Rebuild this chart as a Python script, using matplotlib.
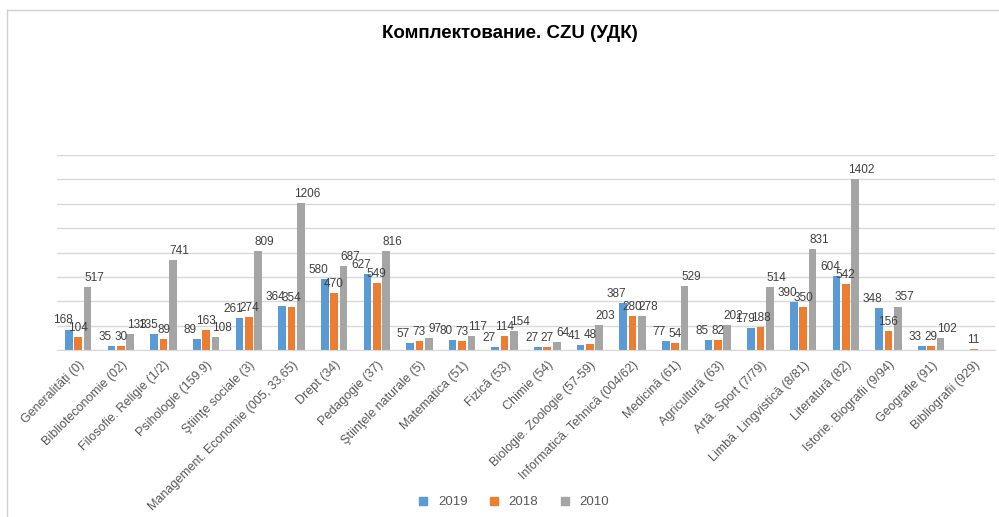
import numpy as np
import matplotlib.pyplot as plt
from matplotlib.lines import Line2D

plt.rcParams['font.family'] = ['Liberation Sans', 'DejaVu Sans']

categories = ['Generalități (0)', 'Biblioteconomie (02)', 'Filosofie. Religie (1/2)',
              'Psihologie (159.9)', 'Ştiinţe sociale (3)', 'Management. Economie (005, 33,65)',
              'Drept (34)', 'Pedagogie (37)', 'Ştiinţele naturale (5)', 'Matematica (51)',
              'Fizică (53)', 'Chimie (54)', 'Biologie. Zoologie (57-59)',
              'Informatică. Tehnică (004/62)', 'Medicină (61)', 'Agricultură (63)',
              'Artă. Sport (7/79)', 'Limbă. Lingvistică (8/81)', 'Literatură (82)',
              'Istorie. Biografii (9/94)', 'Geografie (91)', 'Bibliografii (929)']

v2019 = [168, 35, 135, 89, 261, 364, 580, 627, 57, 80, 27, 27, 41, 387, 77, 85, 179, 390, 604, 348, 33, None]
v2018 = [104, 30, 89, 163, 274, 354, 470, 549, 73, 73, 114, 27, 48, 280, 54, 82, 188, 350, 542, 156, 29, 11]
v2010 = [517, 133, 741, 108, 809, 1206, 687, 816, 97, 117, 154, 64, 203, 278, 529, 202, 514, 831, 1402, 357, 102, None]

series = [('2019', v2019, '#5B9BD5'), ('2018', v2018, '#ED7D31'), ('2010', v2010, '#A5A5A5')]

fig = plt.figure(figsize=(9.99, 5.17), dpi=100)
ax = fig.add_axes([0.057, 0.323, 0.939, 0.377])

x = np.arange(len(categories))
width = 0.18
step = 0.22
label_shift = [-0.15, 0.0, 0.15]
for i, (name, vals, color) in enumerate(series):
    pos = x + (i - 1) * step
    h = [v if v is not None else 0 for v in vals]
    ax.bar(pos, h, width=width, color=color, zorder=2)
    for p, v in zip(pos, vals):
        if v is None:
            continue
        ax.text(p + label_shift[i], v + 25, str(v), ha='center', va='bottom',
                fontsize=8.5, color='#404040')

ax.set_ylim(0, 1600)
ax.set_xlim(-0.5, len(categories) - 0.5)
ax.set_yticks(np.arange(0, 1601, 200))
ax.yaxis.grid(True, color='#d9d9d9', linewidth=1, zorder=0)
ax.tick_params(axis='y', left=False, labelleft=False)
ax.tick_params(axis='x', bottom=False, pad=3)
for s in ['top', 'right', 'left']:
    ax.spines[s].set_visible(False)
ax.spines['bottom'].set_color('#d9d9d9')
ax.set_xticks(x)
ax.set_xticklabels(categories, rotation=45, ha='right', rotation_mode='anchor',
                   fontsize=9, color='#595959')

fig.text(0.51, 0.936, 'Комплектование. CZU (УДК)', ha='center', va='center',
         fontsize=13.5, fontweight='bold', color='#000000')

handles = [Line2D([], [], marker='s', linestyle='none', markersize=6,
                  color=c, label=n) for n, _, c in series]
fig.legend(handles=handles, loc='center', bbox_to_anchor=(0.51, 0.029), ncol=3,
           frameon=False, fontsize=9.5, handletextpad=0.1, columnspacing=1.0,
           labelcolor='#595959')

# chart border
fig.add_artist(Line2D([0.007, 0.007], [0.0, 0.981], color='#d0d0d0', lw=1))
fig.add_artist(Line2D([0.007, 1.0], [0.981, 0.981], color='#d0d0d0', lw=1))

fig.savefig('out.png', dpi=100)
